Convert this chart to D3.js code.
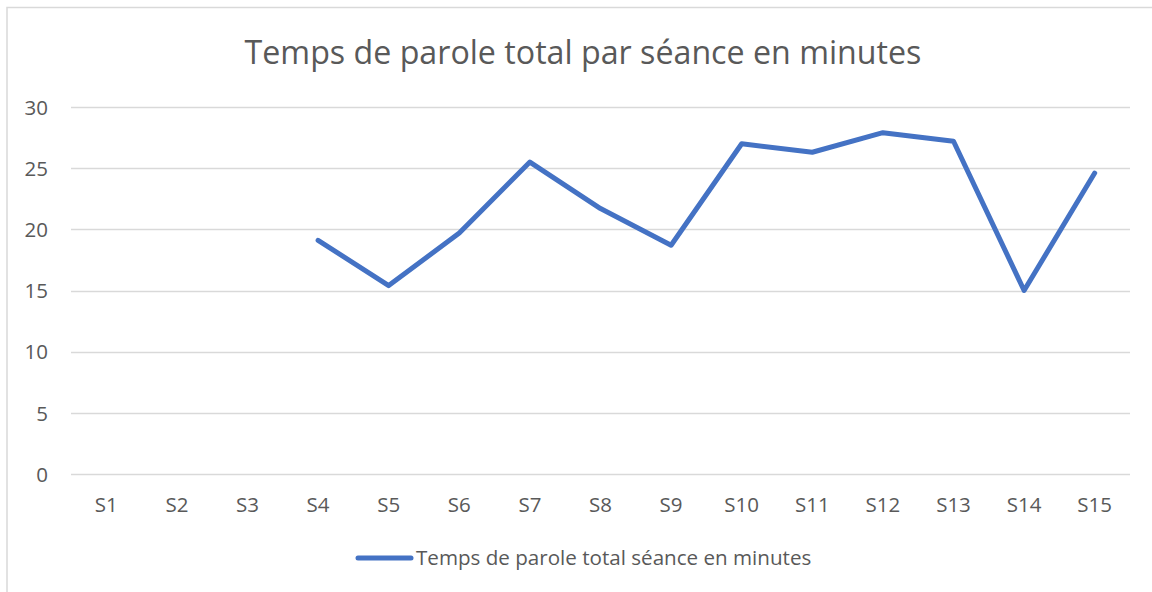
<!DOCTYPE html>
<html><head><meta charset="utf-8">
<script src="https://cdn.jsdelivr.net/npm/d3@7"></script>
<style>html,body{margin:0;padding:0;background:#fff;}svg{display:block;}</style>
</head><body>
<svg id="chart" width="1152" height="592"></svg>
<script>
const title = "Temps de parole total par séance en minutes";
const seriesName = "Temps de parole total séance en minutes";
const categories = ["S1","S2","S3","S4","S5","S6","S7","S8","S9","S10","S11","S12","S13","S14","S15"];
const values = [null,null,null,19.1,15.4,19.7,25.5,21.7,18.7,27.0,26.3,27.9,27.2,15.0,24.6];
const yTicks = [0,5,10,15,20,25,30];

const svg = d3.select("#chart");
const font = "'Open Sans', sans-serif";
const textColor = "#595959";

// frame
svg.append("rect").attr("x",7).attr("y",7.5).attr("width",1200).attr("height",700)
  .attr("fill","none").attr("stroke","#d9d9d9").attr("stroke-width",1.5);

const x = d3.scaleBand().domain(categories).range([71,1130]).padding(0);
const y = d3.scaleLinear().domain([0,30]).range([474,107]);

// gridlines
svg.append("g").selectAll("line").data(yTicks).join("line")
  .attr("x1",71).attr("x2",1130)
  .attr("y1",d=>Math.round(y(d))+0.5).attr("y2",d=>Math.round(y(d))+0.5)
  .attr("stroke","#d9d9d9").attr("stroke-width",1.5);

// y axis labels
const yAxis = d3.axisLeft(y).tickValues(yTicks).tickSize(0).tickPadding(0);
const gy = svg.append("g").attr("transform","translate(48,0)").call(yAxis);
gy.select(".domain").remove();
gy.selectAll("text").attr("font-family",font).attr("font-size",20.5).attr("fill",textColor).attr("dy","0.35em");

// x axis labels
const xAxis = d3.axisBottom(x).tickSize(0).tickPadding(0);
const gx = svg.append("g").attr("transform","translate(0,505)").call(xAxis);
gx.select(".domain").remove();
gx.selectAll("text").attr("font-family",font).attr("font-size",20.5).attr("fill",textColor).attr("dy","0.35em");

// line
const line = d3.line()
  .defined(d=>d.v!=null)
  .x(d=>x(d.c)+x.bandwidth()/2)
  .y(d=>y(d.v));
svg.append("path")
  .datum(categories.map((c,i)=>({c,v:values[i]})))
  .attr("d",line).attr("fill","none").attr("stroke","#4472C4")
  .attr("stroke-width",5).attr("stroke-linejoin","round").attr("stroke-linecap","round");

// title
svg.append("text").attr("x",583).attr("y",64).attr("text-anchor","middle")
  .attr("font-family",font).attr("font-size",32.2).attr("fill",textColor).text(title);

// legend
svg.append("line").attr("x1",358).attr("x2",411).attr("y1",558).attr("y2",558)
  .attr("stroke","#4472C4").attr("stroke-width",5).attr("stroke-linecap","round");
svg.append("text").attr("x",416).attr("y",558).attr("dy","0.35em")
  .attr("font-family",font).attr("font-size",20.6).attr("fill",textColor).text(seriesName);
</script>
</body></html>
